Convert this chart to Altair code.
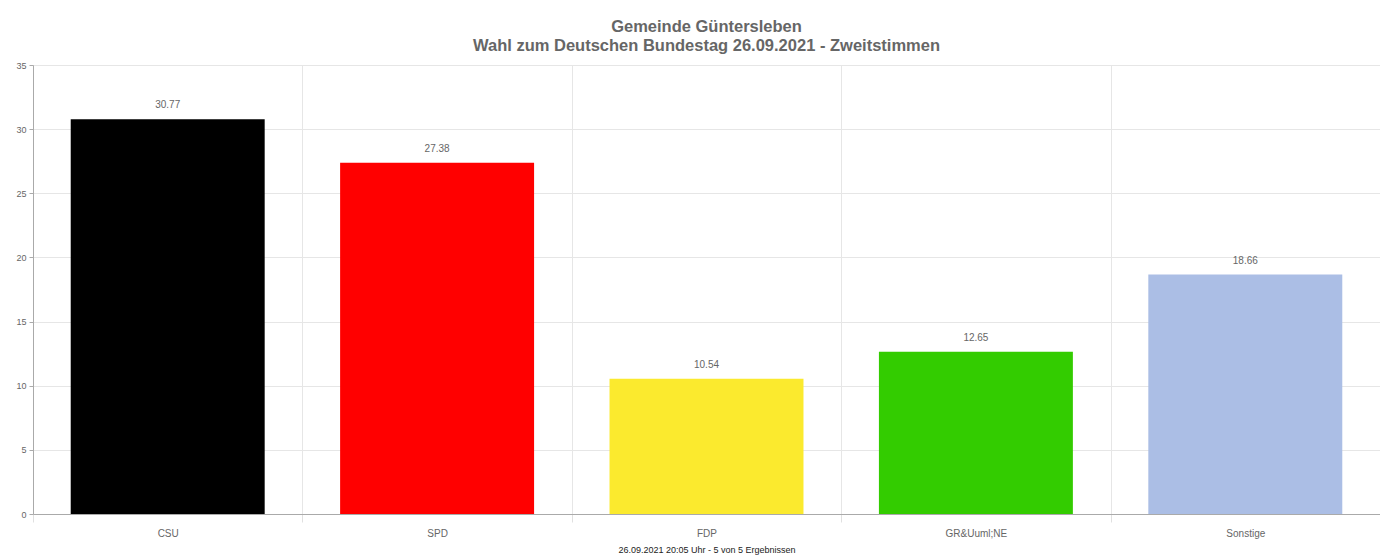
import altair as alt
import pandas as pd

parties = ["CSU", "SPD", "FDP", "GR&Uuml;NE", "Sonstige"]
values = [30.77, 27.38, 10.54, 12.65, 18.66]
colors = ["#000000", "#ff0000", "#fbea2e", "#33cc00", "#abbee5"]
y_ticks = [0, 5, 10, 15, 20, 25, 30, 35]

df = pd.DataFrame({"party": parties, "value": values,
                   "label": [f"{v:.2f}" for v in values]})

FONT = "Liberation Sans"
GRAY = "#666666"

x = alt.X("party:N", sort=parties, scale=alt.Scale(paddingInner=0, paddingOuter=0),
          axis=alt.Axis(title="26.09.2021 20:05 Uhr - 5 von 5 Ergebnissen", titleFont=FONT,
                        titleFontSize=9, titleFontWeight="normal", titleColor="#222222",
                        titlePadding=7, labelAngle=0, labelFont=FONT, labelFontSize=10,
                        labelColor=GRAY, labelPadding=6, grid=True, gridColor="#e6e6e6",
                        tickBand="extent", tickSize=8, tickColor="#e0e0e0",
                        domainColor="#aaaaaa", labelLimit=200))
y = alt.Y("value:Q", scale=alt.Scale(domain=[0, 35], nice=False),
          axis=alt.Axis(title=None, values=y_ticks, labelFont=FONT, labelFontSize=9,
                        labelColor=GRAY, gridColor="#e6e6e6", tickSize=4,
                        tickColor="#aaaaaa", domainColor="#aaaaaa", labelPadding=3))

bars = alt.Chart(df).mark_bar(width={"band": 0.72}).encode(
    x=x, y=y,
    color=alt.Color("party:N", scale=alt.Scale(domain=parties, range=colors), legend=None),
)
text = alt.Chart(df).mark_text(dy=-14, font=FONT, fontSize=10, color=GRAY).encode(
    x=alt.X("party:N", sort=parties), y="value:Q", text="label:N"
)

chart = (bars + text).properties(
    width=1347, height=449,
    title=alt.TitleParams(
        text=["Gemeinde Güntersleben", "Wahl zum Deutschen Bundestag 26.09.2021  - Zweitstimmen"],
        font=FONT, fontSize=16.5, fontWeight="bold", color=GRAY, anchor="middle",
        lineHeight=19, offset=7),
    autosize=alt.AutoSizeParams(type="none"),
    padding={"left": 25, "top": 57, "right": 0, "bottom": 41},
).configure_view(stroke="#e6e6e6").configure(background="white")

chart.save("out.html", embed_options={"renderer": "svg", "actions": False})
